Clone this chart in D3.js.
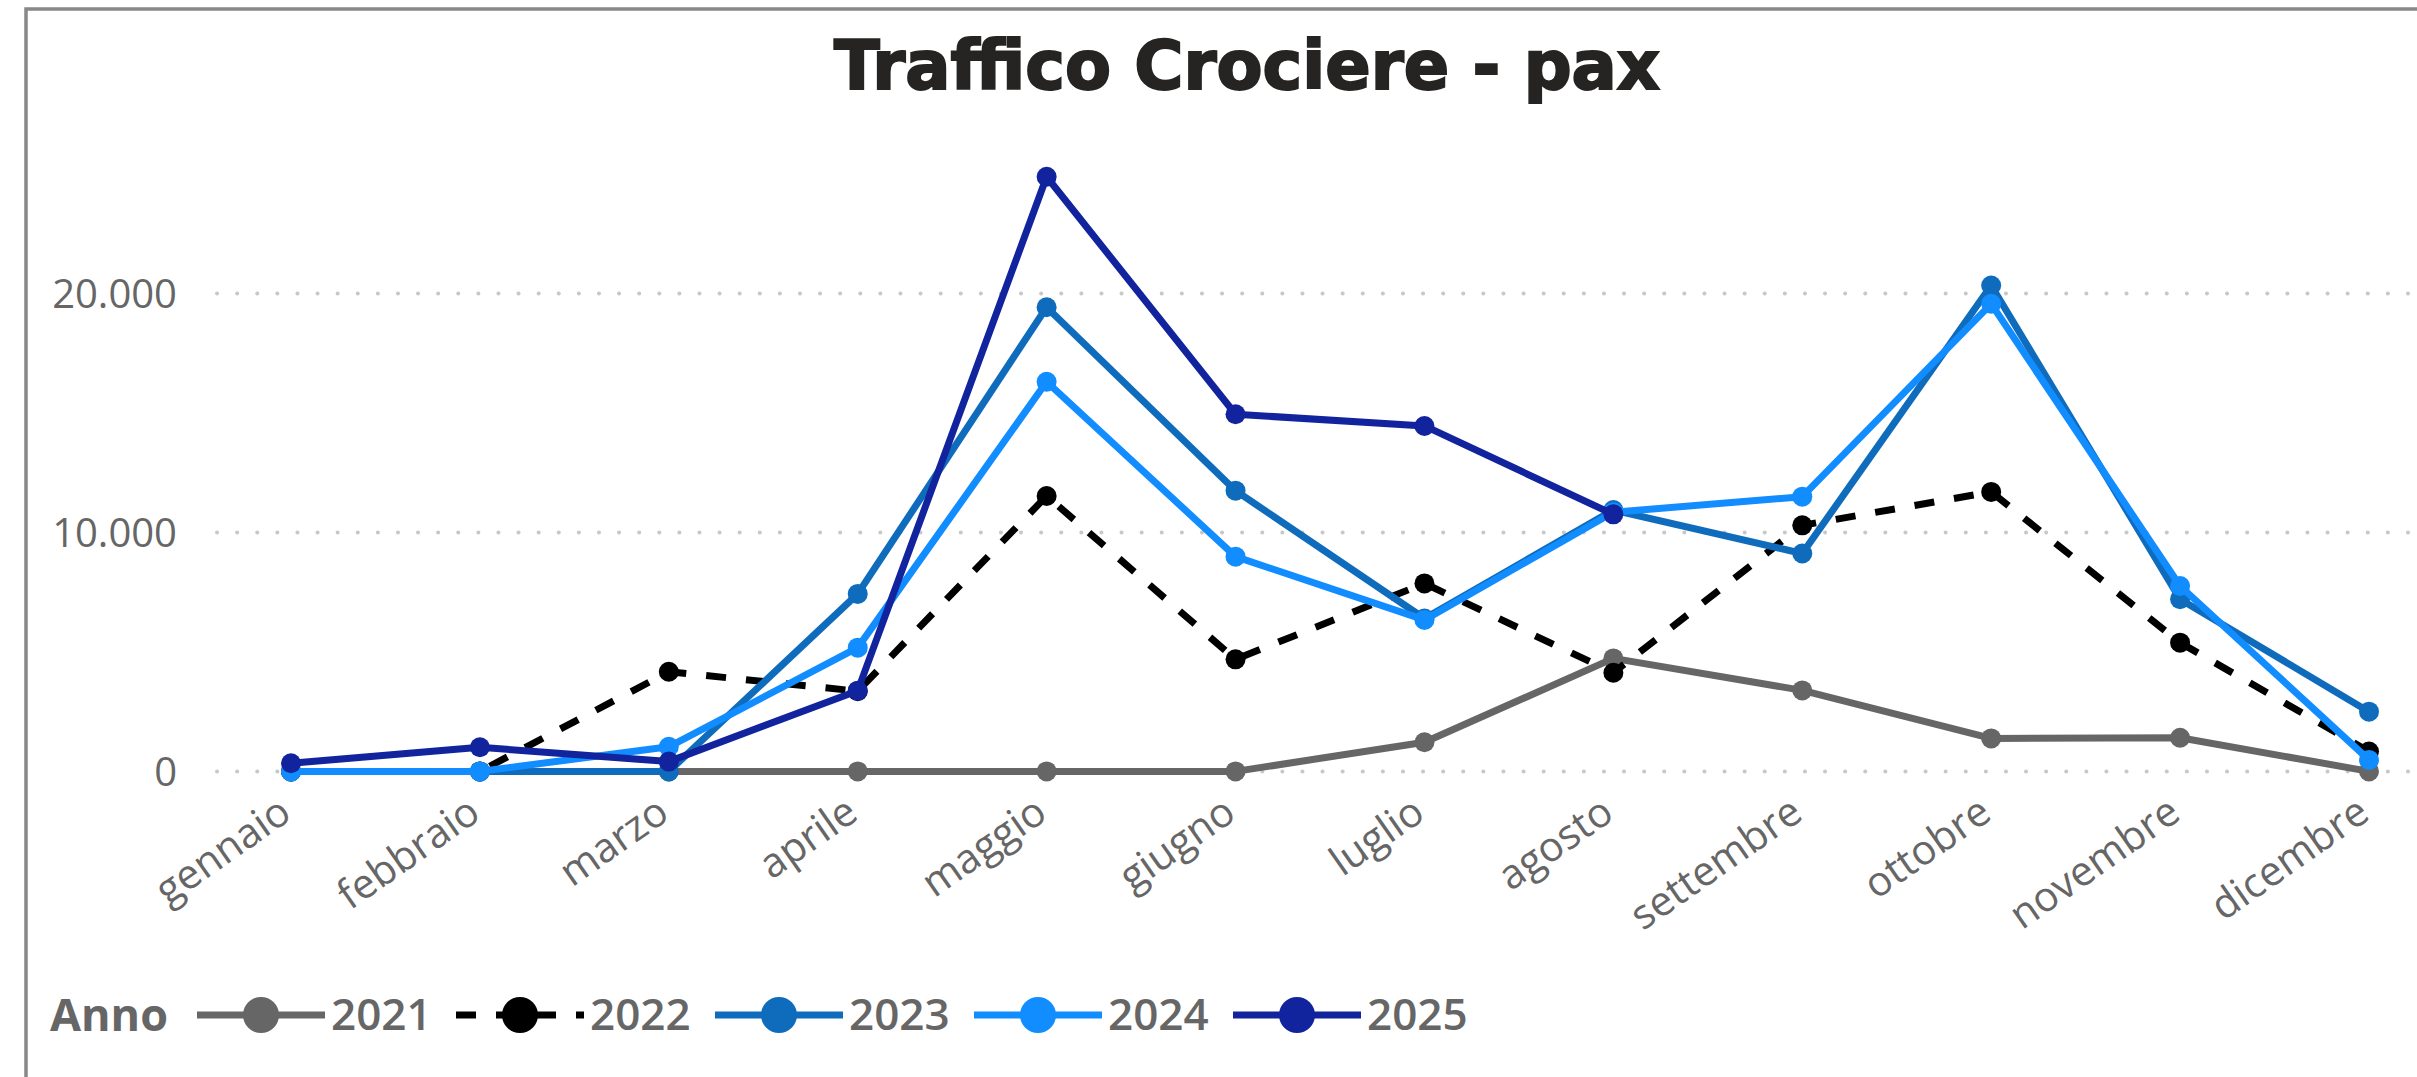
<!DOCTYPE html>
<html>
<head>
<meta charset="utf-8">
<script src="https://cdn.jsdelivr.net/npm/d3@7"></script>
<style>
  body { margin: 0; background: #fff; }
  svg { display: block; }
</style>
</head>
<body>
<svg id="chart"></svg>
<script>
const months = ["gennaio", "febbraio", "marzo", "aprile", "maggio", "giugno",
  "luglio", "agosto", "settembre", "ottobre", "novembre", "dicembre"];
const years = ["2021", "2022", "2023", "2024", "2025"];
const yTicks = [0, 10000, 20000];

const pax2021 = [0, 0, 0, 0, 0, 0, 1220, 4730, 3390, 1380, 1410, 0];
const pax2022 = [0, 0, 4170, 3360, 11530, 4690, 7870, 4130, 10300, 11700, 5390, 830];
const pax2023 = [0, 0, 0, 7430, 19430, 11750, 6400, 10940, 9120, 20340, 7210, 2500];
const pax2024 = [0, 0, 1030, 5180, 16310, 8990, 6340, 10850, 11500, 19570, 7760, 480];
const pax2025 = [340, 1010, 410, 3380, 24890, 14950, 14460, 10760, null, null, null, null];

const seriesColors = ["#666666", "#000000", "#0F6CBD", "#118DFF", "#12239E"];

const width = 2417;
const height = 1077;
const font = "'Segoe UI', 'Open Sans', sans-serif";
const textColor = "#666666";

const svg = d3.select("#chart").attr("width", width).attr("height", height);

const series = years.map((y, i) => ({
  year: y,
  values: [pax2021, pax2022, pax2023, pax2024, pax2025][i],
  color: seriesColors[i],
  dash: y === "2022" ? "20 20" : null,
}));

// frame
svg.append("path")
  .attr("d", `M26,${height} L26,9 L${width},9`)
  .attr("fill", "none")
  .attr("stroke", "#888")
  .attr("stroke-width", 3.5);

// title (stroke makes it look heavier, like the original black weight)
svg.append("text")
  .attr("x", 1247)
  .attr("y", 89)
  .attr("text-anchor", "middle")
  .attr("style", "font-family:'DejaVu Sans',sans-serif;font-weight:bold;font-size:67px;fill:#252423;stroke:#252423;stroke-width:2px;")
  .text("Traffico Crociere - pax");

const x = d3.scalePoint().domain(months).range([291, 2369]);
const y = d3.scaleLinear().domain([0, 20000]).range([771.4, 293.6]);

const it = d3.formatLocale({ decimal: ",", thousands: ".", grouping: [3], currency: ["€", ""] });

// grid
svg.append("g")
  .selectAll("line")
  .data(yTicks)
  .join("line")
  .attr("x1", 217)
  .attr("x2", width)
  .attr("y1", (d) => y(d))
  .attr("y2", (d) => y(d))
  .attr("stroke", "#c8c8c8")
  .attr("stroke-width", 4)
  .attr("stroke-linecap", "round")
  .attr("stroke-dasharray", "0.1 20");

// y axis
const yAxis = svg.append("g")
  .attr("transform", "translate(177,0)")
  .call(d3.axisLeft(y).tickValues(yTicks).tickSize(0).tickPadding(0).tickFormat(it.format(",")));
yAxis.select(".domain").remove();
yAxis.selectAll("text")
  .attr("style", `font-family:${font};font-size:40px;fill:${textColor};`)
  .attr("dy", "0.35em");

// x axis
const xAxis = svg.append("g")
  .attr("transform", "translate(0,818)")
  .call(d3.axisBottom(x).tickSize(0).tickPadding(0));
xAxis.select(".domain").remove();
xAxis.selectAll("text")
  .attr("style", `font-family:${font};font-size:41px;fill:${textColor};`)
  .attr("text-anchor", "end")
  .attr("y", 0)
  .attr("dy", 0)
  .attr("transform", "translate(2,0) rotate(-35)");

// lines
const line = d3.line()
  .defined((d) => d !== null)
  .x((d, i) => x(months[i]))
  .y((d) => y(d));

series.forEach((s) => {
  const g = svg.append("g");
  g.append("path")
    .datum(s.values)
    .attr("d", line)
    .attr("fill", "none")
    .attr("stroke", s.color)
    .attr("stroke-width", 7)
    .attr("stroke-linejoin", "round")
    .attr("stroke-dasharray", s.dash);
  g.selectAll("circle")
    .data(s.values.map((v, i) => ({ v, i })).filter((d) => d.v !== null))
    .join("circle")
    .attr("cx", (d) => x(months[d.i]))
    .attr("cy", (d) => y(d.v))
    .attr("r", 10)
    .attr("fill", s.color);
});

// legend
const legend = svg.append("g").attr("transform", "translate(0,1015)");
legend.append("text")
  .attr("x", 50)
  .attr("dy", "0.35em")
  .attr("style", `font-family:${font};font-weight:bold;font-size:45px;fill:${textColor};`)
  .text("Anno");

const item = legend.selectAll("g.item")
  .data(series)
  .join("g")
  .attr("class", "item")
  .attr("transform", (d, i) => `translate(${197 + i * 259},0)`);
item.append("line")
  .attr("x1", 0)
  .attr("x2", 128)
  .attr("stroke", (d) => d.color)
  .attr("stroke-width", 7)
  .attr("stroke-dasharray", (d) => d.dash);
item.append("circle")
  .attr("cx", 64)
  .attr("r", 18)
  .attr("fill", (d) => d.color);
item.append("text")
  .attr("x", 134)
  .attr("dy", "0.35em")
  .attr("style", `font-family:${font};font-weight:600;font-size:44px;fill:${textColor};`)
  .text((d) => d.year);
</script>
</body>
</html>
